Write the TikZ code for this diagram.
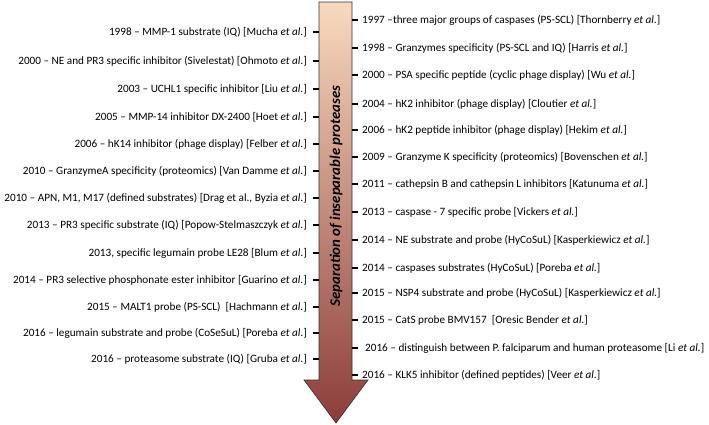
\documentclass[tikz,border=0pt]{standalone}
\usepackage{fontspec}
\setmainfont{Carlito}
\definecolor{arrowtop}{RGB}{249,218,190}
\definecolor{arrowbot}{RGB}{140,60,58}
\tikzset{
  lbl/.style={font=\fontsize{11.2}{13}\selectfont, inner sep=0pt},
  tick/.style={line width=1.3pt},
}
\newcommand{\etal}{\textit{et al.}}
\begin{document}
\begin{tikzpicture}[x=1pt,y=-1pt]
        \useasboundingbox(0,0)rectangle(709,425);
        % the big arrow
        \shade[top color=arrowtop,bottom color=arrowbot,draw=black!80,line width=0.6pt]
          (319,2)--(352,2)--(352,380)--(368,380)--(336,423)--(304,380)--(319,380)--cycle;
        \coordinate(sl)at(319,0);
        \coordinate(sr)at(352,0);
        \node[rotate=90,font=\fontsize{14.8}{17}\selectfont\bfseries\itshape](title)at(336,196){Separation of inseparable proteases};
        % left side
        \foreach \y/\t [count=\i] in {
          32/{1998 -- MMP-1 substrate (IQ) [Mucha \etal]},
          61/{2000 -- NE and PR3 specific inhibitor (Sivelestat) [Ohmoto \etal]},
          89/{2003 -- UCHL1 specific inhibitor [Liu \etal]},
          117/{2005 -- MMP-14 inhibitor DX-2400 [Hoet \etal]},
          144/{2006 -- hK14 inhibitor (phage display) [Felber \etal]},
          171/{2010 -- GranzymeA specificity (proteomics) [Van Damme \etal]},
          198/{2010 -- APN, M1, M17 (defined substrates) [Drag et al., Byzia \etal]},
          225/{2013 -- PR3 specific substrate (IQ) [Popow-Stelmaszczyk \etal]},
          253/{2013, specific legumain probe LE28 [Blum \etal]\hspace{4pt}},
          280/{2014 -- PR3 selective phosphonate ester inhibitor [Guarino \etal]\hspace{4pt}},
          307/{2015 -- MALT1 probe (PS-SCL) \ [Hachmann \etal]},
          333/{2016 -- legumain substrate and probe (CoSeSuL) [Poreba \etal]},
          359/{2016 -- proteasome substrate (IQ) [Gruba \etal]}}{
          \node[lbl,anchor=east](l\i)at(307,\y){\t};
          \draw[tick](l\i.east -| sl)--++(-6,0);
        }
        % right side
        \foreach \y/\t [count=\i] in {
          20/{1997 --three major groups of caspases (PS-SCL) [Thornberry \etal]},
          48/{1998 -- Granzymes specificity (PS-SCL and IQ) [Harris \etal]},
          75/{2000 -- PSA specific peptide (cyclic phage display) [Wu \etal]},
          104/{2004 -- hK2 inhibitor (phage display) [Cloutier \etal]},
          130/{2006 -- hK2 peptide inhibitor (phage display) [Hekim \etal]},
          157/{2009 -- Granzyme K specificity (proteomics) [Bovenschen \etal]},
          184/{2011 -- cathepsin B and cathepsin L inhibitors [Katunuma \etal]},
          212/{2013 -- caspase - 7 specific probe [Vickers \etal]},
          240/{2014 -- NE substrate and probe (HyCoSuL) [Kasperkiewicz \etal]},
          268/{2014 -- caspases substrates (HyCoSuL) [Poreba \etal]},
          293/{2015 -- NSP4 substrate and probe (HyCoSuL) [Kasperkiewicz \etal]},
          320/{2015 -- CatS probe BMV157 \ [Oresic Bender \etal]},
          348/{\hspace{3pt}2016 -- distinguish between P. falciparum and human proteasome [Li \etal]},
          375/{2016 -- KLK5 inhibitor (defined peptides) [Veer \etal]}}{
          \node[lbl,anchor=west](r\i)at(362,\y){\t};
          \draw[tick](r\i.west -| sr)--++(6,0);
        }
    \end{tikzpicture}
\end{document}
